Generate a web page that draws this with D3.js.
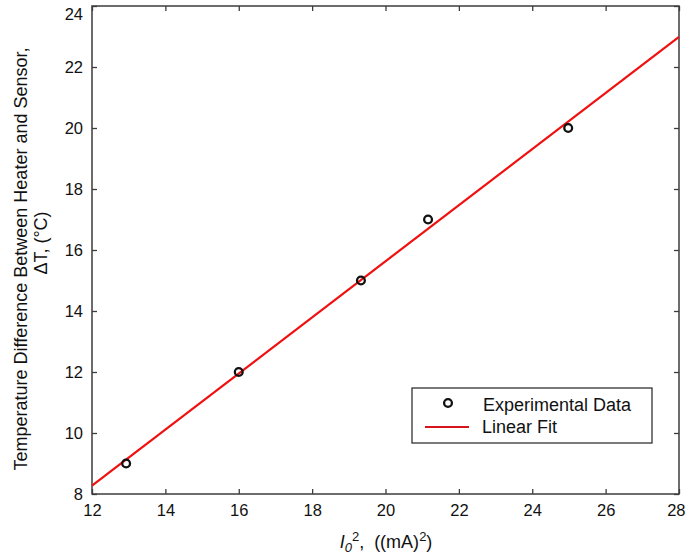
<!DOCTYPE html>
<html>
<head>
<meta charset="utf-8">
<script src="https://cdn.jsdelivr.net/npm/d3@7"></script>
<style>
  html, body { margin: 0; padding: 0; background: #fff; }
  svg { display: block; font-family: "Liberation Sans", Arial, sans-serif; }
</style>
</head>
<body>
<svg id="chart" width="686" height="554"></svg>
<script>
// Measured current squared (mA^2) and temperature difference (°C)
const currentSq = [12.93, 16.0, 19.33, 21.16, 24.98];
const deltaT = [9, 12, 15, 17, 20];

const xTicks = [12, 14, 16, 18, 20, 22, 24, 26, 28];
const yTicks = [8, 10, 12, 14, 16, 18, 20, 22, 24];
const xDomain = [12, 28];
const yDomain = [8, 24];

const legendLabels = ["Experimental Data", "Linear Fit"];

// Least-squares line through the measurements
const mx = d3.mean(currentSq), my = d3.mean(deltaT);
const sxy = d3.sum(currentSq, (v, i) => (v - mx) * (deltaT[i] - my));
const sxx = d3.sum(currentSq, v => (v - mx) ** 2);
const slope = sxy / sxx;
const intercept = my - slope * mx;
const fitLine = xDomain.map(v => [v, intercept + slope * v]);

const svg = d3.select("#chart");
const margin = { left: 92, right: 7, top: 6, bottom: 60 };
const W = 686, H = 554;
const x = d3.scaleLinear().domain(xDomain).range([margin.left, W - margin.right]);
const y = d3.scaleLinear().domain(yDomain).range([H - margin.bottom, margin.top]);

const axisColor = "#3c3c3c";
const tickFont = 16.5;

function styleAxis(g) {
  g.select(".domain").remove();
  g.selectAll(".tick line").attr("stroke", axisColor).attr("stroke-width", 1.3);
  g.selectAll(".tick text").attr("fill", "#111").attr("font-size", tickFont)
    .attr("font-family", "Liberation Sans, Arial, sans-serif");
}

// Bottom axis with inward ticks
const xAxisG = svg.append("g")
  .attr("transform", `translate(0,${y(yDomain[0])})`)
  .call(d3.axisBottom(x).tickValues(xTicks).tickSizeInner(-5).tickSizeOuter(0).tickPadding(10).tickFormat(d3.format("d")))
  .call(styleAxis);
// last label kept inside the page edge
xAxisG.selectAll(".tick text").filter(d => d === xDomain[1]).attr("text-anchor", "end").attr("x", 6);

// Left axis with inward ticks
const yAxisG = svg.append("g")
  .attr("transform", `translate(${x(xDomain[0])},0)`)
  .call(d3.axisLeft(y).tickValues(yTicks).tickSizeInner(-5).tickSizeOuter(0).tickPadding(9).tickFormat(d3.format("d")))
  .call(styleAxis);
// keep the top label clear of the frame
yAxisG.selectAll(".tick text").filter(d => d === yDomain[1]).attr("dy", "0.82em");

// Mirror ticks on top and right
svg.append("g")
  .attr("transform", `translate(0,${y(yDomain[1])})`)
  .call(d3.axisTop(x).tickValues(xTicks).tickSizeInner(-5).tickSizeOuter(0).tickFormat(""))
  .call(styleAxis);
svg.append("g")
  .attr("transform", `translate(${x(xDomain[1])},0)`)
  .call(d3.axisRight(y).tickValues(yTicks).tickSizeInner(-5).tickSizeOuter(0).tickFormat(""))
  .call(styleAxis);

// Frame
svg.append("rect")
  .attr("x", x(xDomain[0])).attr("y", y(yDomain[1]))
  .attr("width", x(xDomain[1]) - x(xDomain[0]))
  .attr("height", y(yDomain[0]) - y(yDomain[1]))
  .attr("fill", "none").attr("stroke", axisColor).attr("stroke-width", 1.5);

// Fit line
svg.append("path")
  .datum(fitLine)
  .attr("d", d3.line().x(d => x(d[0])).y(d => y(d[1])))
  .attr("fill", "none").attr("stroke", "#f01010").attr("stroke-width", 2.2);

// Data markers
svg.append("g").selectAll("circle")
  .data(currentSq.map((v, i) => [v, deltaT[i]]))
  .join("circle")
  .attr("cx", d => x(d[0])).attr("cy", d => y(d[1]))
  .attr("r", 3.9)
  .attr("fill", "none").attr("stroke", "#111").attr("stroke-width", 2.3);

// Legend
const lg = svg.append("g").attr("transform", "translate(412,388)");
lg.append("rect").attr("width", 240).attr("height", 55)
  .attr("fill", "#fff").attr("stroke", "#222").attr("stroke-width", 1.2);
lg.append("circle").attr("cx", 36).attr("cy", 15).attr("r", 3.9)
  .attr("fill", "none").attr("stroke", "#111").attr("stroke-width", 2.3);
lg.append("text").attr("x", 71).attr("y", 23).attr("font-size", 18).attr("fill", "#111")
  .text(legendLabels[0]);
lg.append("line").attr("x1", 13).attr("x2", 57).attr("y1", 39).attr("y2", 39)
  .attr("stroke", "#d8141a").attr("stroke-width", 2.2);
lg.append("text").attr("x", 70).attr("y", 45).attr("font-size", 18).attr("fill", "#111")
  .text(legendLabels[1]);

// X-axis title: I0², ((mA)²)
const xt = svg.append("text")
  .attr("x", 386).attr("y", 548)
  .attr("text-anchor", "middle").attr("font-size", 18).attr("fill", "#111");
xt.append("tspan").attr("font-style", "italic").text("I");
xt.append("tspan").attr("font-style", "italic").attr("font-size", 13).attr("dy", 4).text("0");
xt.append("tspan").attr("font-size", 13).attr("dy", -11).text("2");
xt.append("tspan").attr("dy", 7).text(",\u00a0\u00a0((mA)");
xt.append("tspan").attr("font-size", 13).attr("dy", -7).text("2");
xt.append("tspan").attr("dy", 7).text(")");

// Y-axis title, two lines
svg.append("text")
  .attr("transform", "translate(27,259) rotate(-90)")
  .attr("text-anchor", "middle").attr("font-size", 18).attr("fill", "#111")
  .text("Temperature Difference Between Heater and Sensor,");
svg.append("text")
  .attr("transform", "translate(47,243) rotate(-90)")
  .attr("text-anchor", "middle").attr("font-size", 18).attr("fill", "#111")
  .text("ΔT, (°C)");
</script>
</body>
</html>
